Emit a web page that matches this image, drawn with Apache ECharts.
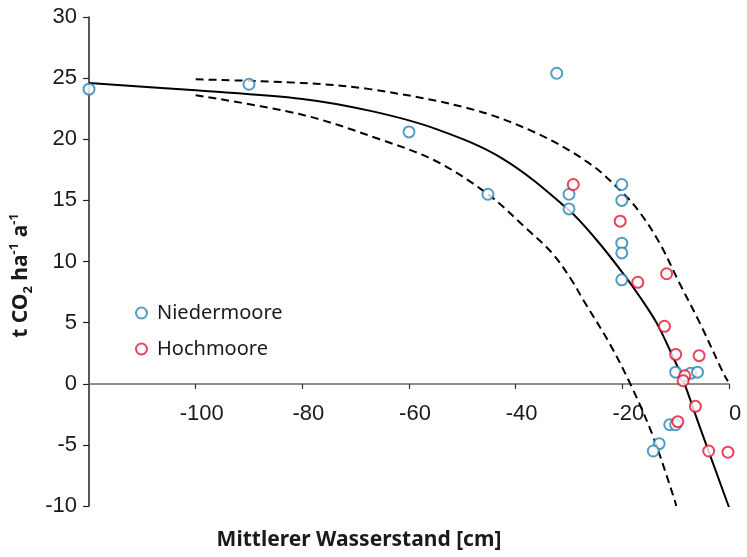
<!DOCTYPE html>
<html>
<head>
<meta charset="utf-8">
<script src="https://cdn.jsdelivr.net/npm/echarts@6/dist/echarts.min.js"></script>
<style>
  html, body { margin: 0; padding: 0; background: #fff; }
  #main { width: 747px; height: 557px; }
</style>
</head>
<body>
<div id="main"></div>
<script>
var myChart = echarts.init(document.getElementById('main'));

// Messpunkte: [Wasserstand cm, t CO2 ha-1 a-1]
var niedermoore = [
    [-120, 24.1], [-90, 24.5], [-60, 20.6], [-45.2, 15.5], [-32.3, 25.4],
    [-30, 15.5], [-30, 14.3], [-20.1, 16.3], [-20.1, 15.0], [-20.1, 11.5],
    [-20.1, 10.7], [-20.1, 8.5], [-10, 0.95], [-7.2, 0.85], [-5.9, 0.95],
    [-11.1, -3.35], [-10, -3.35], [-13.1, -4.9], [-14.2, -5.5]
];
var hochmoore = [
    [-29.2, 16.3], [-20.4, 13.3], [-11.7, 9.0], [-17.1, 8.3], [-12.1, 4.7],
    [-10, 2.4], [-5.6, 2.3], [-8.3, 0.65], [-8.6, 0.25], [-6.3, -1.85],
    [-9.6, -3.1], [-3.8, -5.5], [-0.2, -5.6]
];

// Regressionskurve und Vertrauensbereich
var fitLine = [
    [-120, 24.6], [-100, 24.0], [-80, 23.3], [-67, 22.3], [-55, 20.85],
    [-42.4, 18.4], [-30, 14.2], [-24.9, 11.8], [-19.9, 9.05], [-16.7, 7.1],
    [-13.6, 5.0], [-10.5, 2.2], [-8.6, 0.3], [-5.5, -3.5], [0, -10.1]
];
var upperBand = [
    [-100, 24.9], [-80, 24.6], [-67.4, 24.1], [-48.6, 22.5], [-36.1, 20.5],
    [-26.1, 18.0], [-19.9, 15.6], [-16.7, 14.0], [-13, 11.5], [-9.25, 8.2],
    [-5.5, 5.0], [-1.1, 0.9], [-0.2, 0.2]
];
var lowerBand = [
    [-100, 23.6], [-80, 22.0], [-65.5, 20.0], [-54.9, 18.2], [-45.2, 15.5],
    [-38, 12.7], [-33, 10.6], [-29.25, 8.3], [-27.4, 6.9], [-22.4, 3.3],
    [-18.3, -0.2], [-14.25, -4.3], [-10.2, -9.5], [-9.9, -10]
];

var blue = '#2b82b5';
var red = '#e5132f';
var textColor = '#1a1a1a';
var tickFont = 'Liberation Sans';
var titleFont = 'Noto Sans';

function dashed(name, data) {
    return {
        name: name,
        type: 'line',
        data: data,
        showSymbol: false,
        smooth: 0.35,
        silent: true,
        lineStyle: { color: '#000', width: 2, type: [8, 5] },
        z: 1
    };
}

option = {
    animation: false,
    grid: { left: 89, right: 18, top: 17, bottom: 51, containLabel: false, outerBoundsMode: 'none' },
    legend: {
        data: ['Niedermoore', 'Hochmoore'],
        orient: 'vertical',
        left: 130,
        top: 298,
        itemWidth: 11,
        itemHeight: 11,
        itemGap: 16,
        textStyle: {
            fontFamily: titleFont,
            fontSize: 20,
            color: textColor,
            padding: [0, 0, 0, 5]
        }
    },
    xAxis: {
        type: 'value',
        min: -120,
        max: 0,
        interval: 20,
        // Achse liegt bei y = 0 (122 px über dem Gitterboden)
        offset: -122,
        name: 'Mittlerer Wasserstand [cm]',
        nameLocation: 'middle',
        nameGap: 146,
        nameTextStyle: {
            fontFamily: titleFont,
            fontWeight: 'bold',
            fontSize: 21,
            color: textColor,
            padding: [0, 100, 0, 0]
        },
        axisLine: { onZero: false, lineStyle: { color: '#6b6b6b', width: 1.5 } },
        axisTick: { length: 5, lineStyle: { color: '#333', width: 1.2 } },
        axisLabel: {
            showMinLabel: false,
            fontFamily: tickFont,
            fontSize: 22,
            color: textColor,
            margin: 19,
            padding: [0, 0, 0, 12]
        },
        splitLine: { show: false }
    },
    yAxis: {
        type: 'value',
        min: -10,
        max: 30,
        interval: 5,
        name: '{b|t CO}{sub|2}{b| ha}{sup|-1}{b| a}{sup|-1}',
        nameLocation: 'middle',
        nameRotate: 90,
        nameGap: 50,
        nameTextStyle: {
            color: textColor,
            padding: [0, 28, 0, 0],
            rich: {
                b: { fontFamily: titleFont, fontWeight: 'bold', fontSize: 21, color: textColor, lineHeight: 27 },
                sub: { fontFamily: titleFont, fontWeight: 'bold', fontSize: 13, color: textColor, verticalAlign: 'bottom', lineHeight: 27 },
                sup: { fontFamily: titleFont, fontWeight: 'bold', fontSize: 13, color: textColor, verticalAlign: 'top', lineHeight: 27 }
            }
        },
        axisLine: { onZero: false, lineStyle: { color: '#222', width: 1.5 } },
        axisTick: { length: 6, lineStyle: { color: '#222', width: 1.2 } },
        axisLabel: {
            fontFamily: tickFont,
            fontSize: 22,
            color: textColor,
            margin: 12
        },
        splitLine: { show: false }
    },
    series: [
        {
            name: 'Fit',
            type: 'line',
            data: fitLine,
            showSymbol: false,
            smooth: 0.35,
            silent: true,
            lineStyle: { color: '#000', width: 2 },
            z: 1
        },
        dashed('Obere Grenze', upperBand),
        dashed('Untere Grenze', lowerBand),
        {
            name: 'Niedermoore',
            type: 'scatter',
            data: niedermoore,
            symbol: 'emptyCircle',
            symbolSize: 11,
            itemStyle: { color: blue, borderColor: blue, borderWidth: 1.6 },
            z: 3
        },
        {
            name: 'Hochmoore',
            type: 'scatter',
            data: hochmoore,
            symbol: 'emptyCircle',
            symbolSize: 11,
            itemStyle: { color: red, borderColor: red, borderWidth: 1.6 },
            z: 4
        }
    ]
};
myChart.setOption(option);
</script>
</body>
</html>
